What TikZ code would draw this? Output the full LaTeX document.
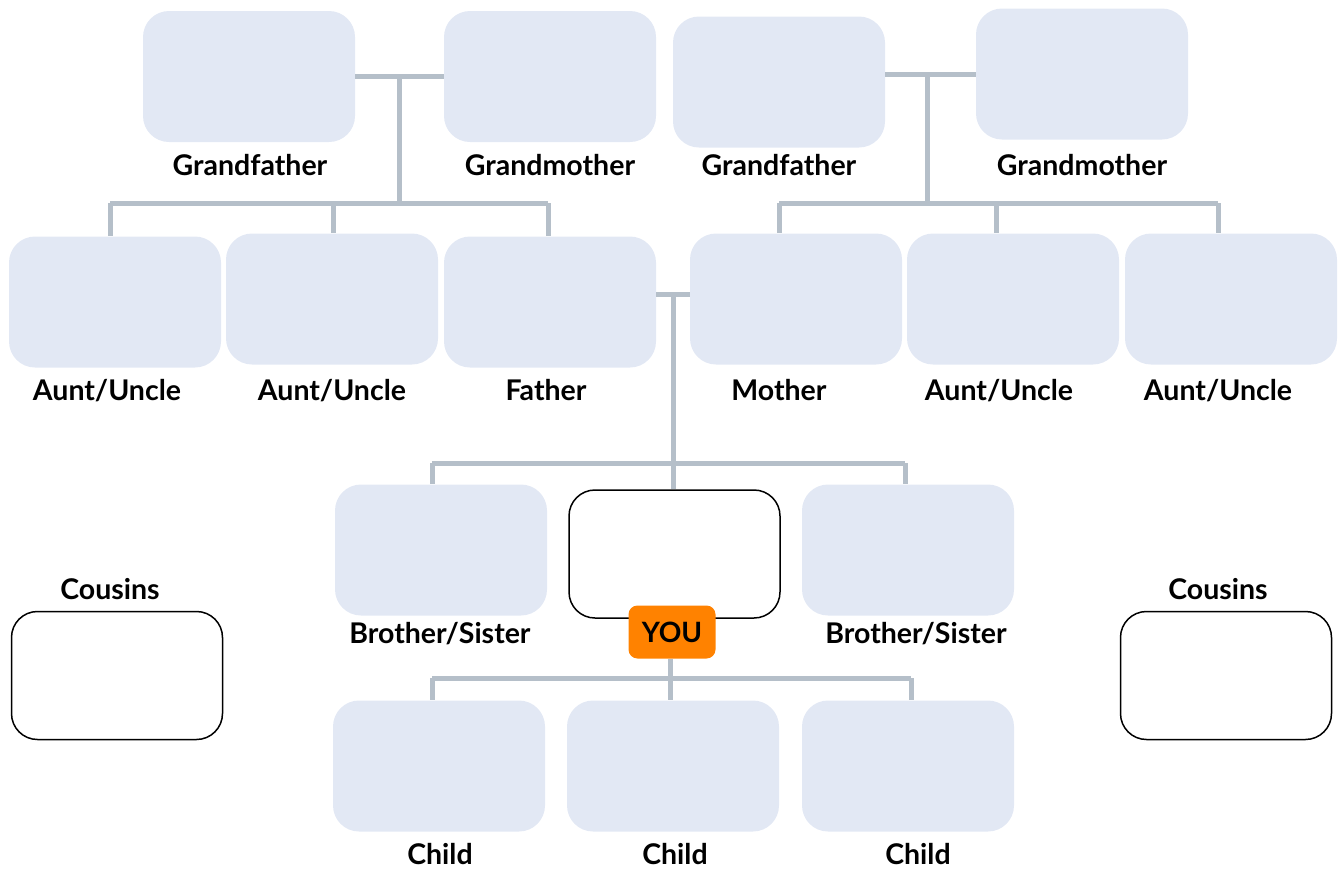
\documentclass[tikz,border=0pt]{standalone}
\usepackage{fontspec}
\setmainfont{Lato}
\usetikzlibrary{calc}
\definecolor{boxfill}{HTML}{E2E8F4}
\definecolor{linecol}{HTML}{B5BFC9}
\definecolor{youorange}{HTML}{FF8200}
\begin{document}
\begin{tikzpicture}[x=1pt,y=-1pt,
  famsbox/.style={rectangle,rounded corners=26pt,fill=boxfill,draw=none,minimum width=212pt,minimum height=131pt,inner sep=0pt},
  whitebox/.style={rectangle,rounded corners=26pt,fill=white,draw=black,line width=1.5pt,minimum width=211pt,minimum height=128pt,inner sep=0pt},
  lbl/.style={anchor=base,inner sep=0pt,font=\fontsize{28.5}{32}\selectfont\bfseries},
  conn/.style={draw=linecol,line width=5pt},
  youtag/.style={rectangle,rounded corners=9pt,fill=youorange,minimum width=87pt,minimum height=53pt,inner sep=0pt,font=\fontsize{28}{32}\selectfont\bfseries}
]
\useasboundingbox (0,0) rectangle (1338,868);
% grandparents
\node[famsbox] (gf1) at (249,76.5) {};
\node[famsbox] (gm1) at (550,76.5) {};
\node[famsbox] (gf2) at (779,82) {};
\node[famsbox] (gm2) at (1082,74) {};
% row 2
\node[famsbox] (au1) at (115,302) {};
\node[famsbox] (au2) at (332,299) {};
\node[famsbox] (fa) at (550,302) {};
\node[famsbox] (mo) at (796,299) {};
\node[famsbox] (au3) at (1013,299) {};
\node[famsbox] (au4) at (1231,299) {};
% row 3
\node[famsbox] (bs1) at (441,550) {};
\node[whitebox] (you) at (674.5,554) {};
\node[famsbox] (bs2) at (908,550) {};
\node[whitebox] (cl) at (117,675.5) {};
\node[whitebox] (cr) at (1226,675.5) {};
% row 4
\node[famsbox] (c1) at (439,766) {};
\node[famsbox] (c2) at (673,766) {};
\node[famsbox] (c3) at (908,766) {};

% labels
\node[lbl] (lgf1) at (250,175) {Grandfather};
\node[lbl] (lgm1) at (550,175) {Grandmother};
\node[lbl] (lgf2) at (779,175) {Grandfather};
\node[lbl] (lgm2) at (1082,175) {Grandmother};
\node[lbl] (lau1) at (107,400) {Aunt/Uncle};
\node[lbl] (lau2) at (332,400) {Aunt/Uncle};
\node[lbl] (lfa) at (546,400) {Father};
\node[lbl] (lmo) at (779,400) {Mother};
\node[lbl] (lau3) at (999,400) {Aunt/Uncle};
\node[lbl] (lau4) at (1218,400) {Aunt/Uncle};
\node[lbl] (lbs1) at (440,643) {Brother/Sister};
\node[lbl] (lbs2) at (916,643) {Brother/Sister};
\node[lbl] (lcl) at (110,599) {Cousins};
\node[lbl] (lcr) at (1218,599) {Cousins};
\node[lbl] (lc1) at (440,864) {Child};
\node[lbl] (lc2) at (675,864) {Child};
\node[lbl] (lc3) at (918,864) {Child};

% junction coordinates
\coordinate (j1) at (399,76.5);
\coordinate (b1) at (399,203);
\coordinate (d1) at (110,203);
\coordinate (d2) at (333,203);
\coordinate (d3) at (548,203);
\coordinate (j2) at (927,74);
\coordinate (b2) at (927,203);
\coordinate (d4) at (779,203);
\coordinate (d5) at (996,203);
\coordinate (d6) at (1218,203);
\coordinate (j3) at (673,294);
\coordinate (b3) at (673,463);
\coordinate (d7) at (432,463);
\coordinate (d8) at (905,463);
\coordinate (b4) at (670,678);
\coordinate (d9) at (432,678);
\coordinate (d10) at (911,678);

% left grandparents
\draw[conn] (gf1.east) -- (gm1.west);
\draw[conn] (j1) -- (b1);
\draw[conn] (d1) -- (d3);
\draw[conn] (d1) -- (d1 |- au1.north);
\draw[conn] (d2) -- (d2 |- au2.north);
\draw[conn] (d3) -- (d3 |- fa.north);
% right grandparents
\draw[conn] (gm2.west -| gf2.east) -- (gm2.west);
\draw[conn] (j2) -- (b2);
\draw[conn] (d4) -- (d6);
\draw[conn] (d4) -- (d4 |- mo.north);
\draw[conn] (d5) -- (d5 |- au3.north);
\draw[conn] (d6) -- (d6 |- au4.north);
% parents
\draw[conn] (fa.east |- j3) -- (mo.west |- j3);
\draw[conn] (j3) -- (b3);
\draw[conn] (d7) -- (d8);
\draw[conn] (d7) -- (d7 |- bs1.north);
\draw[conn] (b3) -- (b3 |- you.north);
\draw[conn] (d8) -- (d8 |- bs2.north);

\node[youtag] (yt) at (672,632) {YOU};
% children
\draw[conn] (yt.south -| b4) -- (b4);
\draw[conn] (d9) -- (d10);
\draw[conn] (d9) -- (d9 |- c1.north);
\draw[conn] (b4) -- (b4 |- c2.north);
\draw[conn] (d10) -- (d10 |- c3.north);
\end{tikzpicture}
\end{document}
